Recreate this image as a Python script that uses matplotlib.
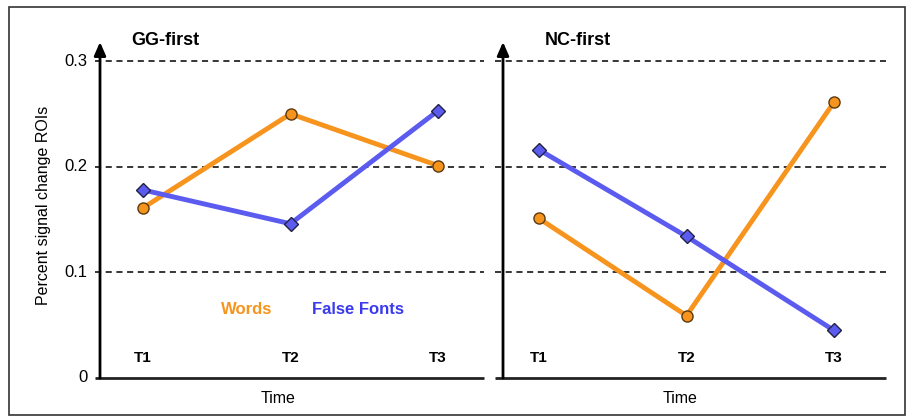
import matplotlib
matplotlib.use("Agg")
import matplotlib.pyplot as plt
from matplotlib.patches import Rectangle

plt.rcParams['font.family'] = ['Liberation Sans', 'DejaVu Sans']

times = ["T1", "T2", "T3"]
panels = ["GG-first", "NC-first"]
words_gg = [0.161, 0.250, 0.201]
fonts_gg = [0.178, 0.146, 0.253]
words_nc = [0.151, 0.059, 0.261]
fonts_nc = [0.216, 0.134, 0.045]
yticks = [0, 0.1, 0.2, 0.3]
ytick_labels = ["0", "0.1", "0.2", "0.3"]

ORANGE = "#F7941D"
BLUE = "#5B5BF0"
BLUE_TXT = "#3A3AEE"

W, H = 907, 418
fig = plt.figure(figsize=(W / 100, H / 100), dpi=100)

# border
fig.patches.append(Rectangle((9 / W, 3 / H), 896 / W, 408 / H, transform=fig.transFigure,
                             fill=False, edgecolor="#333333", linewidth=1.2))

ytop = 0.318
def make_axes(x0, x1, yaxis_px, t1_px):
    ax = fig.add_axes([x0 / W, (H - 378) / H, (x1 - x0) / W, 336 / H])
    sp = 147.5
    ax.set_xlim(1 - (t1_px - x0) / sp, 1 + (x1 - t1_px) / sp)
    ax.set_ylim(0, ytop)
    ax.axis("off")
    yx = 1 - (t1_px - yaxis_px) / sp
    return ax, yx

axL, yxL = make_axes(95, 484, 100, 143)
axR, yxR = make_axes(495, 886, 503, 539)

xs = [1, 2, 3]
for ax, yx, w, f, title, toff, timex in [(axL, yxL, words_gg, fonts_gg, panels[0], 0.21, 1.915),
                                         (axR, yxR, words_nc, fonts_nc, panels[1], 0.285, 1.956)]:
    xl = ax.get_xlim()
    for yv in yticks[1:]:
        ax.plot(xl, [yv, yv], color="black", linestyle=(0, (4, 3)), linewidth=1.1,
                clip_on=False, zorder=1)
    ax.plot(xl, [0, 0], color="#222222", linewidth=2, clip_on=False, zorder=2, solid_capstyle="butt")
    ax.annotate("", xy=(yx, ytop), xytext=(yx, 0),
                arrowprops=dict(arrowstyle="-|>,head_length=0.8,head_width=0.35",
                                color="black", linewidth=2, shrinkA=0, shrinkB=0),
                annotation_clip=False, zorder=3)
    ax.plot(xs, w, color=ORANGE, linewidth=3.5, marker="o", markersize=8,
            markerfacecolor=ORANGE, markeredgecolor="#5a3a10", markeredgewidth=1,
            zorder=4, clip_on=False)
    ax.plot(xs, f, color=BLUE, linewidth=3.5, marker="D", markersize=7.5,
            markerfacecolor=BLUE, markeredgecolor="#222244", markeredgewidth=1,
            zorder=5, clip_on=False)
    for x, t in zip(xs, times):
        ax.text(x, 0.0185, t, ha="center", va="center", fontsize=11, fontweight="bold")
    ax.text(timex, -0.0195, "Time", ha="center", va="center", fontsize=11.5)
    ax.text(yx + toff, ytop + 0.0015, title, ha="left", va="center", fontsize=13,
            fontweight="bold")

for yv, lab in zip(yticks, ytick_labels):
    axL.text(axL.get_xlim()[0] - 0.05, yv, lab, ha="right", va="center", fontsize=12)

axL.text(axL.get_xlim()[0] - 0.346, 0.1637, "Percent signal change ROIs", rotation=90,
         ha="center", va="center", fontsize=11.5)
axL.text(1.705, 0.065, "Words", color=ORANGE, fontsize=12, fontweight="bold",
         ha="center", va="center")
axL.text(2.458, 0.065, "False Fonts", color=BLUE_TXT, fontsize=12, fontweight="bold",
         ha="center", va="center")

fig.savefig("out.png", dpi=100)
